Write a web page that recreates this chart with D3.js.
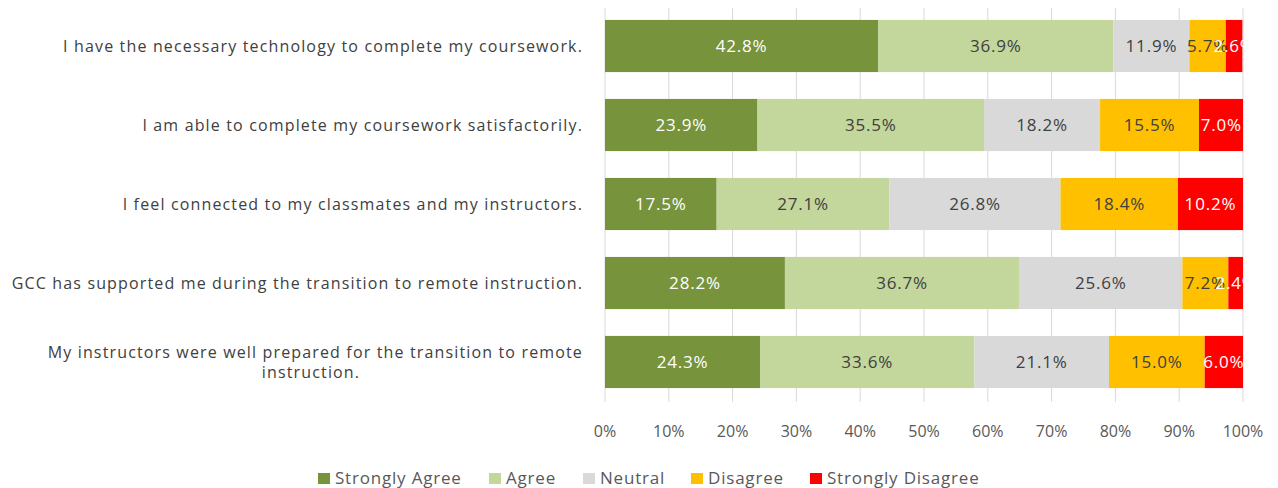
<!DOCTYPE html>
<html><head><meta charset="utf-8">
<script src="https://cdn.jsdelivr.net/npm/d3@7"></script>
<style>body{margin:0;background:#fff}svg{display:block}text{font-family:"Open Sans",sans-serif}</style>
</head><body><svg id="c" width="1278" height="488"></svg>
<script>
const categories = [
  ["I have the necessary technology to complete my coursework."],
  ["I am able to complete my coursework satisfactorily."],
  ["I feel connected to my classmates and my instructors."],
  ["GCC has supported me during the transition to remote instruction."],
  ["My instructors were well prepared for the transition to remote", "instruction."]
];
const seriesNames = ["Strongly Agree","Agree","Neutral","Disagree","Strongly Disagree"];
const stronglyAgree = [42.8, 23.9, 17.5, 28.2, 24.3];
const agree = [36.9, 35.5, 27.1, 36.7, 33.6];
const neutral = [11.9, 18.2, 26.8, 25.6, 21.1];
const disagree = [5.7, 15.5, 18.4, 7.2, 15.0];
const stronglyDisagree = [2.6, 7.0, 10.2, 2.4, 6.0];
const tickValues = [0,10,20,30,40,50,60,70,80,90,100];
const colors = ["#77933c","#c3d69b","#d9d9d9","#ffc000","#ff0000"];
const labelColors = ["#ffffff","#404040","#404040","#404040","#ffffff"];

const series = [stronglyAgree, agree, neutral, disagree, stronglyDisagree];
const svg = d3.select("#c");
const x = d3.scaleLinear().domain([0,100]).range([605,1243]);
const y = d3.scaleBand().domain(d3.range(categories.length)).range([6.5,401.5]).paddingInner(0.34).paddingOuter(0.17);

svg.append("defs").append("clipPath").attr("id","clip").append("rect")
  .attr("x",x(0)).attr("y",0).attr("width",x(100)-x(0)).attr("height",488);

// gridlines
svg.append("g").selectAll("line").data(tickValues).join("line")
  .attr("x1",d=>x(d)).attr("x2",d=>x(d)).attr("y1",8).attr("y2",402)
  .attr("stroke","#d9d9d9").attr("stroke-width",1);

// tick labels
svg.append("g").selectAll("text").data(tickValues).join("text")
  .attr("x",d=>x(d)).attr("y",437).attr("text-anchor","middle")
  .attr("font-size",16).attr("fill","#595959").text(d=>d+"%");

// stacks
const gBars = svg.append("g").attr("clip-path","url(#clip)");
categories.forEach((c,i)=>{
  let cum = 0;
  series.forEach((s,j)=>{
    const v = s[i];
    gBars.append("rect").attr("x",x(cum)).attr("y",y(i))
      .attr("width",x(cum+v)-x(cum)).attr("height",y.bandwidth()).attr("fill",colors[j]);
    cum += v;
  });
});
const gLab = svg.append("g");
categories.forEach((c,i)=>{
  let cum = 0;
  series.forEach((s,j)=>{
    const v = s[i];
    gLab.append("text").attr("x",x(cum+v/2)).attr("y",y(i)+y.bandwidth()/2+6)
      .attr("text-anchor","middle").attr("font-size",17).attr("letter-spacing",0.8)
      .attr("fill",labelColors[j])
      .text(v.toFixed(1)+"%");
    cum += v;
  });
});

// category labels
categories.forEach((lines,i)=>{
  const cy = y(i)+y.bandwidth()/2;
  const t = svg.append("text").attr("font-size",16).attr("letter-spacing",1.15).attr("fill","#404040");
  lines.forEach((ln,k)=>{
    const wrapped = lines.length>1 && k===1;
    t.append("tspan").attr("x", wrapped ? 311 : 583)
     .attr("text-anchor", wrapped ? "middle":"end")
     .attr("y", cy + 6 + (k - (lines.length-1)/2)*20).text(ln);
  });
});

// legend
const legX = [318, 489, 583, 691, 810];
const leg = svg.append("g");
seriesNames.forEach((n,j)=>{
  leg.append("rect").attr("x",legX[j]).attr("y",473).attr("width",12).attr("height",11).attr("fill",colors[j]);
  leg.append("text").attr("x",legX[j]+17).attr("y",484).attr("font-size",17).attr("letter-spacing",0.8)
    .attr("fill","#595959").text(n);
});
</script></body></html>
